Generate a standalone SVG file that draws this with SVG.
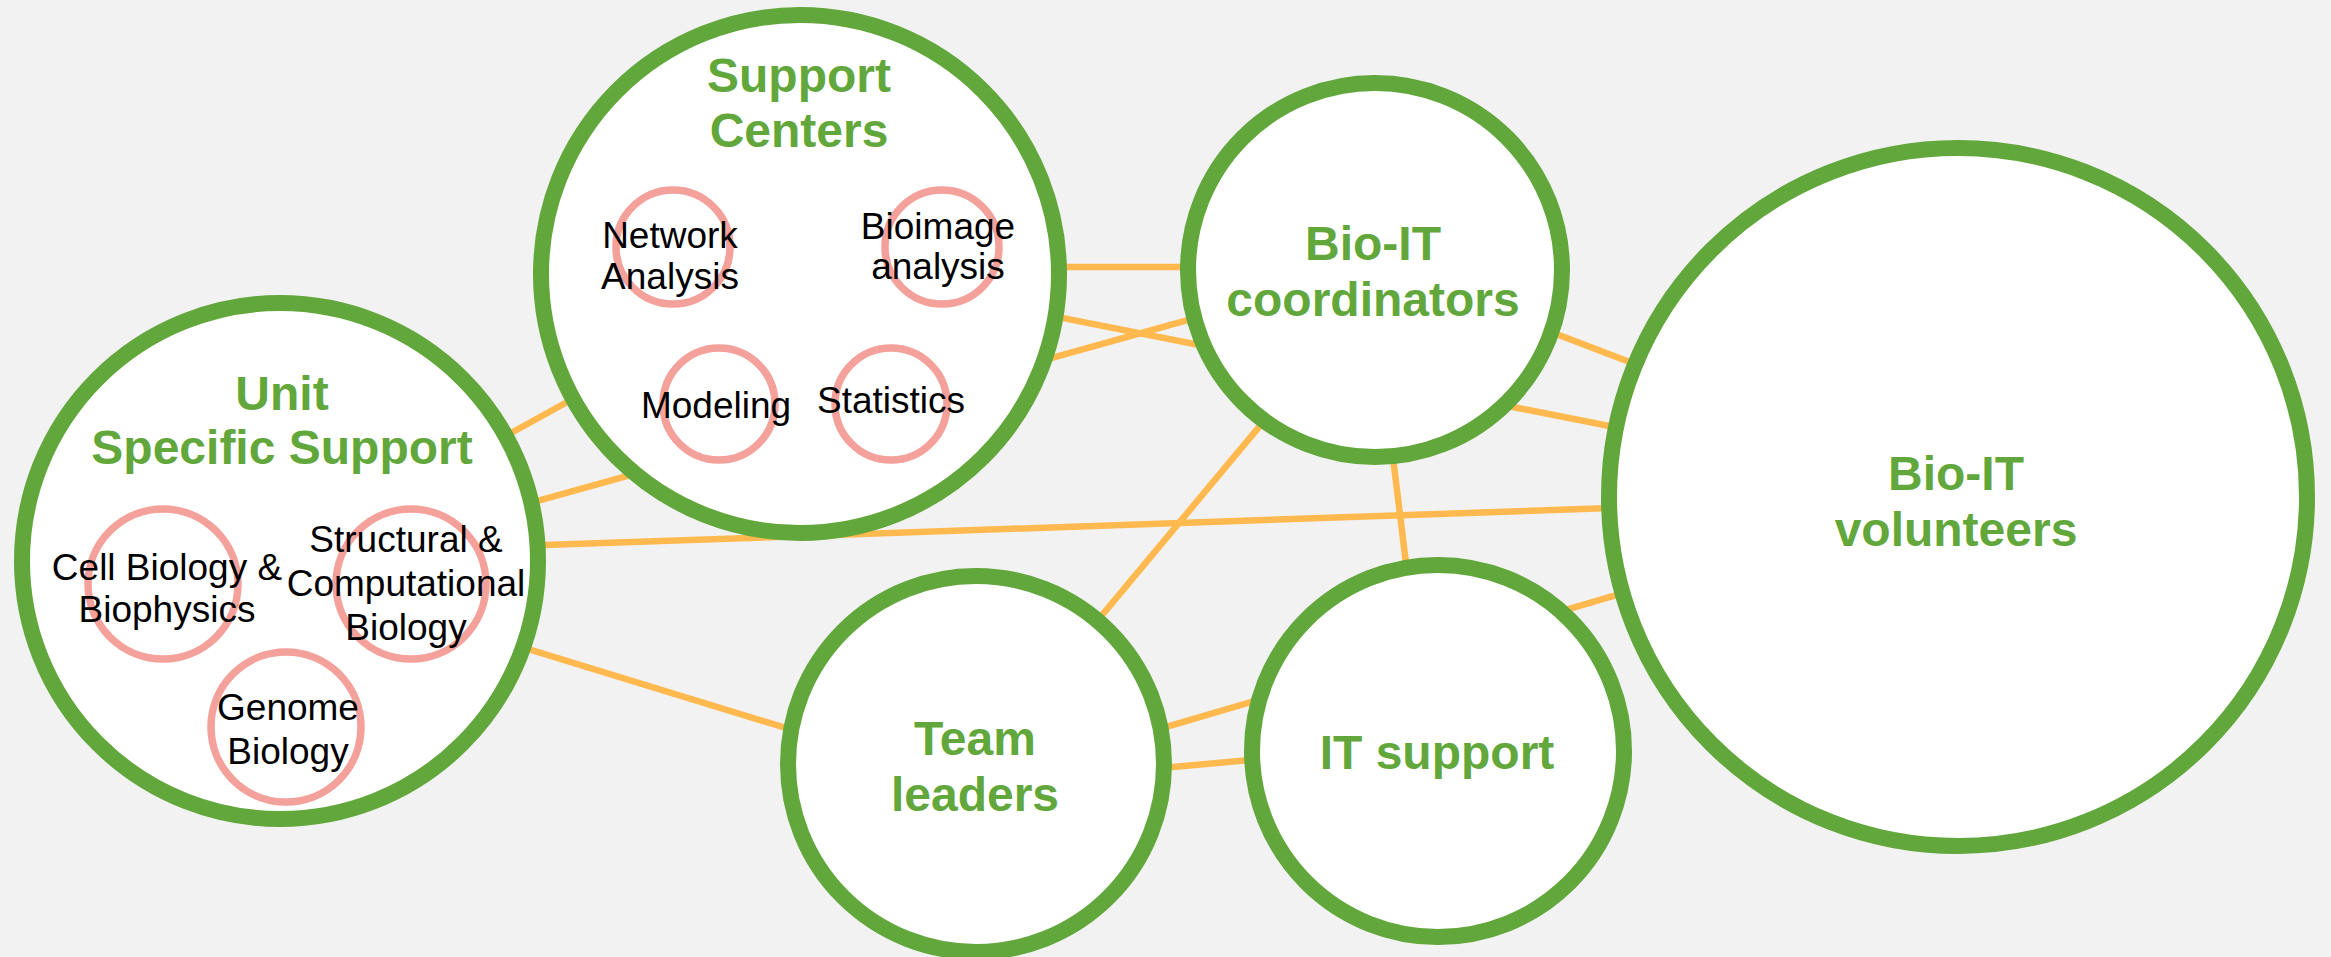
<svg xmlns="http://www.w3.org/2000/svg" width="2331" height="957" viewBox="0 0 2331 957">
<style>
.big{fill:#fff;stroke:#62A73B;stroke-width:16}
.sub{fill:#fff;stroke:#F5A19B;stroke-width:7.5}
.lbl{font-family:"Liberation Sans",Arial,sans-serif;font-weight:bold;font-size:48px;fill:#62A73B;text-anchor:middle}
.sl{font-family:"Liberation Sans",Arial,sans-serif;font-size:37px;fill:#000;text-anchor:middle}
.conn line{stroke:#FFB94F;stroke-width:6.5;stroke-linecap:butt}
</style>
<rect width="2331" height="957" fill="#F2F2F2"/>
<g id="connectors" class="conn">
<line x1="300" y1="549" x2="800" y2="274"/>
<line x1="300" y1="567" x2="1375" y2="268"/>
<line x1="300" y1="553.5" x2="1958" y2="496"/>
<line x1="300" y1="579" x2="975" y2="786"/>
<line x1="800" y1="267" x2="1375" y2="267"/>
<line x1="800" y1="266" x2="1958" y2="495"/>
<line x1="1375" y1="265" x2="1958" y2="487"/>
<line x1="1390" y1="270" x2="977" y2="765"/>
<line x1="1370" y1="270" x2="1429" y2="751"/>
<line x1="975" y1="785" x2="1437" y2="743"/>
<line x1="975" y1="783" x2="1958" y2="495"/>
</g>
<g id="unit-specific-support">
<circle class="big" cx="280" cy="561" r="258"/>
<text class="lbl" x="282" y="410">Unit</text>
<text class="lbl" x="282" y="464">Specific Support</text>
<g id="cell-biology">
<circle class="sub" cx="163" cy="584" r="75"/>
<text class="sl" x="167" y="580">Cell Biology &amp;</text>
<text class="sl" x="167" y="622">Biophysics</text>
</g>
<g id="structural-biology">
<circle class="sub" cx="411" cy="584" r="75"/>
<text class="sl" x="406" y="552">Structural &amp;</text>
<text class="sl" x="406" y="596">Computational</text>
<text class="sl" x="406" y="640">Biology</text>
</g>
<g id="genome-biology">
<circle class="sub" cx="286" cy="727" r="75"/>
<text class="sl" x="288" y="720">Genome</text>
<text class="sl" x="288" y="764">Biology</text>
</g>
</g>
<g id="support-centers">
<circle class="big" cx="800" cy="274" r="259"/>
<text class="lbl" x="799" y="92">Support</text>
<text class="lbl" x="799" y="147">Centers</text>
<g id="network-analysis">
<circle class="sub" cx="673" cy="247" r="57"/>
<text class="sl" x="670" y="248">Network</text>
<text class="sl" x="670" y="289">Analysis</text>
</g>
<g id="bioimage-analysis">
<circle class="sub" cx="942" cy="247" r="57"/>
<text class="sl" x="938" y="239">Bioimage</text>
<text class="sl" x="938" y="279">analysis</text>
</g>
<g id="modeling">
<circle class="sub" cx="719" cy="404" r="56"/>
<text class="sl" x="716" y="418">Modeling</text>
</g>
<g id="statistics">
<circle class="sub" cx="891" cy="404" r="56"/>
<text class="sl" x="891" y="413">Statistics</text>
</g>
</g>
<g id="bio-it-coordinators">
<circle class="big" cx="1375" cy="270" r="187"/>
<text class="lbl" x="1373" y="260">Bio-IT</text>
<text class="lbl" x="1373" y="316">coordinators</text>
</g>
<g id="bio-it-volunteers">
<circle class="big" cx="1958" cy="497" r="349"/>
<text class="lbl" x="1956" y="490">Bio-IT</text>
<text class="lbl" x="1956" y="546">volunteers</text>
</g>
<g id="team-leaders">
<circle class="big" cx="976" cy="764" r="188"/>
<text class="lbl" x="975" y="755">Team</text>
<text class="lbl" x="975" y="811">leaders</text>
</g>
<g id="it-support">
<circle class="big" cx="1438" cy="751" r="186"/>
<text class="lbl" x="1437" y="769">IT support</text>
</g>
</svg>
